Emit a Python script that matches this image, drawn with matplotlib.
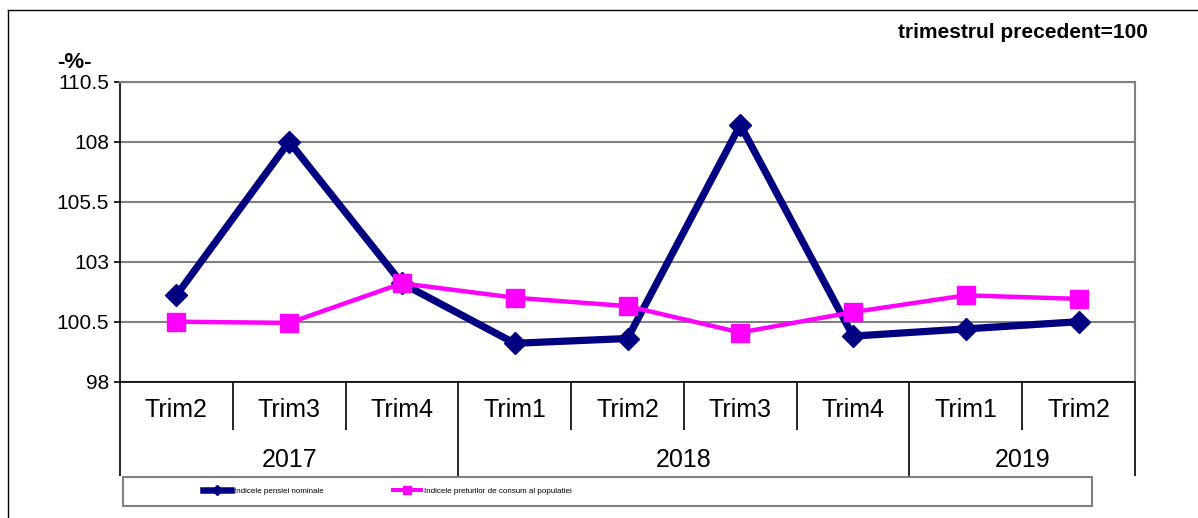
import numpy as np
import matplotlib
matplotlib.use("Agg")
import matplotlib.pyplot as plt
from matplotlib.lines import Line2D
from matplotlib.patches import Rectangle

plt.rcParams['font.family'] = ['Liberation Sans', 'DejaVu Sans']

# date
trimestre = ['Trim2', 'Trim3', 'Trim4', 'Trim1', 'Trim2', 'Trim3', 'Trim4', 'Trim1', 'Trim2']
ani = ['2017', '2018', '2019']
ani_nr = [3, 4, 2]  # cate trimestre are fiecare an
pensie = [101.6, 108.0, 102.1, 99.6, 99.8, 108.7, 99.9, 100.2, 100.5]
preturi = [100.5, 100.45, 102.1, 101.5, 101.15, 100.05, 100.9, 101.6, 101.45]
yticks = [98, 100.5, 103, 105.5, 108, 110.5]

W, H = 1198, 518
fig = plt.figure(figsize=(W / 100, H / 100), dpi=100)
ax = fig.add_axes([120 / W, 1 - 381.7 / H, (1135 - 120) / W, 300 / H])

x = np.arange(len(trimestre))
ax.plot(x, pensie, color='#000080', lw=5.2, marker='D', ms=11, zorder=3,
        label='Indicele pensiei nominale')
ax.plot(x, preturi, color='#FF00FF', lw=3.2, marker='s', ms=12.5, zorder=4,
        label='Indicele preturilor de consum al populatiei')

ax.set_ylim(98, 110.5)
ax.set_yticks(yticks)
ax.set_yticklabels(['98', '100.5', '103', '105.5', '108', '110.5'])
ax.set_xlim(-0.5, len(trimestre) - 0.5)
ax.grid(axis='y', color='#808080', lw=1.5)
ax.set_axisbelow(True)

for s in ['top', 'right']:
    ax.spines[s].set_color('#808080')
    ax.spines[s].set_linewidth(1.5)
ax.spines['left'].set_linewidth(1.2)
ax.spines['bottom'].set_linewidth(1.2)
ax.tick_params(axis='y', length=4.3, width=1.2, pad=3.5, labelsize=15)

# separatori pe axa x: scurti intre trimestre, lungi intre ani
granite_ani = np.concatenate([[0], np.cumsum(ani_nr)]) - 0.5
ax.set_xticks(granite_ani)
ax.set_xticks(x[:-1] + 0.5, minor=True)
ax.tick_params(axis='x', which='major', length=68, width=1.2, labelbottom=False)
ax.tick_params(axis='x', which='minor', length=34.5, width=1.2, labelbottom=False)

tr = ax.get_xaxis_transform()
for i, t in enumerate(trimestre):
    ax.text(i, -0.094, t, transform=tr, ha='center', va='center', fontsize=18)
for k, a in enumerate(ani):
    mij = (granite_ani[k] + granite_ani[k + 1]) / 2
    ax.text(mij, -0.262, a, transform=tr, ha='center', va='center', fontsize=18)

fig.text(74 / W, 1 - 63 / H, '-%-', ha='center', va='center', fontsize=16, fontweight='bold')
fig.text(1148 / W, 1 - 33 / H, 'trimestrul precedent=100', ha='right', va='center',
         fontsize=15, fontweight='bold')

# chenar exterior
fig.add_artist(Line2D([8 / W, 8 / W], [0, 1 - 10 / H], color='black', lw=1))
fig.add_artist(Line2D([8 / W, 1], [1 - 10 / H, 1 - 10 / H], color='black', lw=1))

# legenda
fig.add_artist(Rectangle((123 / W, 1 - 506 / H), (1092 - 123) / W, 29 / H,
                         transform=fig.transFigure, fill=False, ec='#808080', lw=1.5))
leg = fig.legend(loc='center left', bbox_to_anchor=(203 / W, 1 - 491 / H), ncol=2,
                 frameon=False, handlelength=3.5, handletextpad=0.35, columnspacing=8.6,
                 borderpad=0, borderaxespad=0,
                 prop={'family': ['Liberation Sans Narrow', 'Liberation Sans'], 'size': 5.8},
                 markerscale=0.45)
for h in leg.legend_handles:
    h.set_linewidth(h.get_linewidth() * 0.9)

fig.savefig('out.png', dpi=100)
